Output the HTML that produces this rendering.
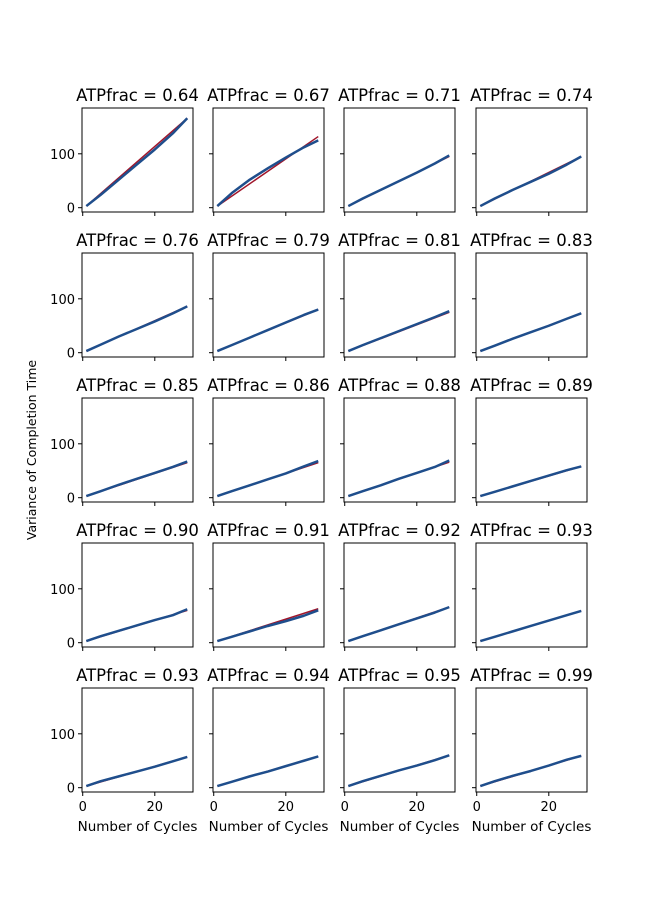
<!DOCTYPE html>
<html><head><meta charset="utf-8"><style>
body{margin:0;background:#fff}
svg{display:block;font-family:"DejaVu Sans","Liberation Sans",sans-serif}
</style></head><body>
<svg id="fig" width="654" height="905" viewBox="0 0 654 905">
<text x="0" y="0" transform="translate(36,450) rotate(-90)" text-anchor="middle" font-size="12.5">Variance of Completion Time</text>
</svg>
<script>
const titles=["0.64","0.67","0.71","0.74","0.76","0.79","0.81","0.83","0.85","0.86","0.88","0.89","0.90","0.91","0.92","0.93","0.93","0.94","0.95","0.99"];
const xs=[1,5,10,15,20,25,29];
const series=[
[3,24,52,80,108,138,166],
[3,27,52,73,93,112,125],
[3,17,33,49,65,82,97],
[3,17,33,48,63,80,95],
[3,15,30,44,58,73,86],
[3,14,28,42,56,70,80],
[3,14,27,40,53,66,77],
[3,13,26,38,50,63,73],
[3,12,24,35,46,57,67],
[3,12,23,34,45,58,68],
[3,12,23,35,46,57,69],
[3,11,21,31,41,51,58],
[3,12,22,32,42,51,62],
[3,11,21,31,40,50,60],
[3,12,23,34,45,56,66],
[3,11,21,31,41,51,59],
[3,12,21,30,39,49,57],
[3,11,21,30,40,50,58],
[3,12,22,32,41,51,60],
[3,12,22,31,41,52,59]];
const fitEnd=[166,132,95,95,86,80,75,73,65,65,66,58,60,63,66,59,57,58,60,59];
const yTicks=[0,100];
const xTicks=[0,20];
const svg=document.getElementById('fig');
const NS='http://www.w3.org/2000/svg';
function mk(t,a,p){const e=document.createElementNS(NS,t);for(const k in a)e.setAttribute(k,a[k]);(p||svg).appendChild(e);return e;}
const colL=[82,213,344,476],rowT=[108,253,398,543,688],W=111,H=104;
const xmin=-0.2,xmax=30.6,ymin=-8,ymax=185;
titles.forEach((t,i)=>{
 const r=Math.floor(i/4),c=i%4,L=colL[c],T=rowT[r];
 const sx=v=>L+(v-xmin)/(xmax-xmin)*W, sy=v=>T+H-(v-ymin)/(ymax-ymin)*H;
 const g=mk('g',{});
 
 
 const tt=mk('text',{x:L+W/2,y:T-7,'text-anchor':'middle','font-size':'16.5'},g);tt.textContent='ATPfrac = '+t;
 
 
 const fit=mk('line',{x1:sx(xs[0]),y1:sy(series[i][0]),x2:sx(xs[xs.length-1]),y2:sy(fitEnd[i]),stroke:'#a0152a','stroke-width':1.5},g);
 
 
 const pts=xs.map((x,j)=>sx(x)+','+sy(series[i][j])).join(' ');
 const pl=mk('polyline',{points:pts,fill:'none',stroke:'#1f4e8c','stroke-width':2.5,'stroke-linejoin':'round'},g);
 
 
 mk('rect',{x:L,y:T,width:W,height:H,fill:'none',stroke:'#000','stroke-width':1},g);
 yTicks.forEach(v=>{mk('line',{x1:L-4,x2:L,y1:sy(v),y2:sy(v),stroke:'#000'},g);
  if(c==0){const tx=mk('text',{x:L-7,y:sy(v)+5,'text-anchor':'end','font-size':'13'},g);tx.textContent=v;
   
   }});
 xTicks.forEach(v=>{mk('line',{x1:sx(v),x2:sx(v),y1:T+H,y2:T+H+4,stroke:'#000'},g);
  if(r==4){const tx=mk('text',{x:sx(v),y:T+H+19,'text-anchor':'middle','font-size':'13'},g);tx.textContent=v;
   
   }});
 if(r==4){const xl=mk('text',{x:L+W/2,y:T+H+39,'text-anchor':'middle','font-size':'13.5'},g);xl.textContent='Number of Cycles';
  
  }
});
</script>
</body></html>
